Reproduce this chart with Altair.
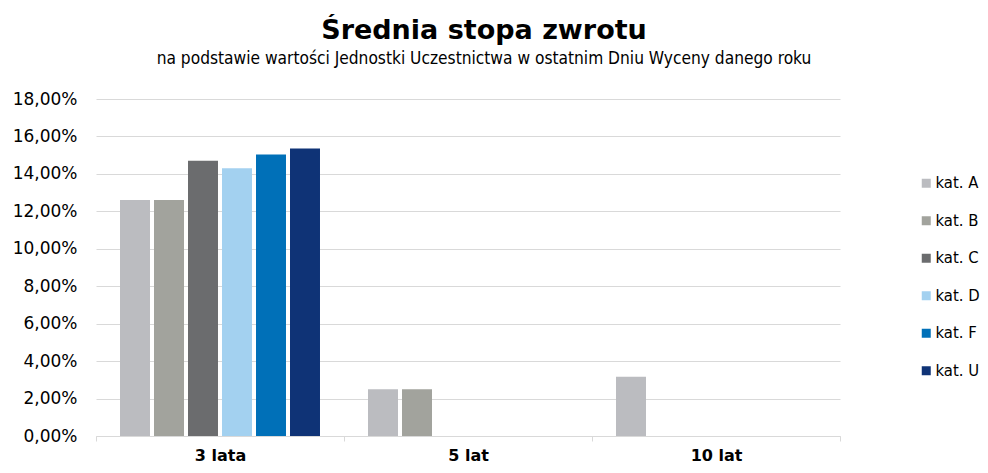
import altair as alt
import pandas as pd

categories = ["3 lata", "5 lat", "10 lat"]
series = ["kat. A", "kat. B", "kat. C", "kat. D", "kat. F", "kat. U"]
colors = ["#bbbcc0", "#a2a39d", "#6b6c6e", "#a3d1f0", "#0070b8", "#0f3376"]
vals_3 = [0.1260, 0.1260, 0.1470, 0.1430, 0.1503, 0.1536]
vals_5 = [0.0250, 0.0250]
vals_10 = [0.0317]
y_ticks = [0.0, 0.02, 0.04, 0.06, 0.08, 0.10, 0.12, 0.14, 0.16, 0.18]

rows = []
for cat, vals in zip(categories, [vals_3, vals_5, vals_10]):
    for s, v in zip(series, vals):
        rows.append({"okres": cat, "kategoria": s, "wartosc": v})
df = pd.DataFrame(rows)

font = "DejaVu Sans"
cond = "DejaVu Sans Condensed, Liberation Sans Narrow, Liberation Sans, sans-serif"
grid = "#d9d9d9"

chart = alt.Chart(df).mark_bar().encode(
    x=alt.X(
        "okres:N", sort=categories,
        scale=alt.Scale(domain=categories, paddingInner=0, paddingOuter=0),
        axis=alt.Axis(title=None, tickBand="extent", tickSize=5, tickColor=grid,
                      domainColor=grid, labelAngle=0, labelFontSize=16,
                      labelFontWeight="bold", labelFont=font, labelColor="#000",
                      labelPadding=6, grid=False),
    ),
    xOffset=alt.XOffset(
        "kategoria:N", sort=series,
        scale=alt.Scale(domain=series, paddingInner=0.118, paddingOuter=0.706),
    ),
    y=alt.Y(
        "wartosc:Q",
        scale=alt.Scale(domain=[0, 0.18], nice=False),
        axis=alt.Axis(title=None, values=y_ticks,
                      labelExpr="replace(format(datum.value, '.2%'), '.', ',')",
                      domain=False, ticks=False, labelPadding=19, gridColor=grid,
                      labelFontSize=17, labelFont=font, labelColor="#000"),
    ),
    color=alt.Color(
        "kategoria:N", sort=series,
        scale=alt.Scale(domain=series, range=colors),
        legend=alt.Legend(title=None, orient="none", legendX=822, legendY=76,
                          padding=0, symbolOffset=0,
                          symbolType="square", symbolSize=81, symbolStrokeWidth=0,
                          labelFontSize=16.5, labelFont=cond, labelColor="#000",
                          rowPadding=20.5, labelOffset=1),
    ),
).properties(
    width=744, height=337,
    autosize=alt.AutoSizeParams(type="none"),
    padding={"left": 88, "top": 91, "right": 140, "bottom": 29},
    title=alt.TitleParams(
        text="Średnia stopa zwrotu",
        subtitle="na podstawie wartości Jednostki Uczestnictwa w ostatnim Dniu Wyceny danego roku",
        anchor="middle", font=font, fontSize=27, fontWeight="bold", color="#000",
        subtitleFont=cond, subtitleFontSize=17.2, subtitleColor="#000",
        offset=22, dx=16, subtitlePadding=5,
    ),
).configure_view(stroke=None)

chart.save("out.html", embed_options={"renderer": "svg", "actions": False})
